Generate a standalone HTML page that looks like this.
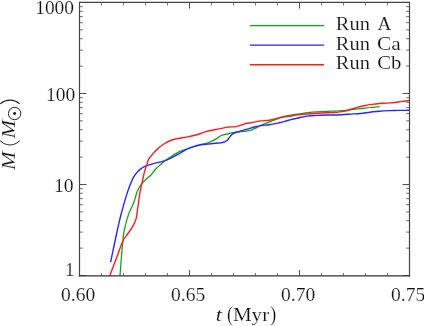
<!DOCTYPE html>
<html><head><meta charset="utf-8"><style>
html,body{margin:0;padding:0;background:#fff;}
svg{display:block;will-change:transform}
text{font-family:"Liberation Serif",serif;fill:#111;stroke:#fff;stroke-width:0.16px}
</style></head><body>
<svg width="424" height="326" viewBox="0 0 424 326">
<rect width="424" height="326" fill="#fff"/>
<g fill="none" stroke-linejoin="round" stroke-linecap="butt" stroke-width="1.45">
<path d="M120.0 276.0C120.1 273.9 120.6 267.8 120.9 263.5C121.2 259.2 121.7 253.9 122.0 250.2C122.3 246.4 122.7 243.5 122.9 241.0C123.1 238.5 123.0 237.9 123.4 235.3C123.8 232.7 124.4 229.0 125.4 225.2C126.4 221.4 127.8 216.3 129.2 212.6C130.6 208.9 132.3 206.5 133.6 203.0C134.9 199.5 135.9 194.7 137.2 191.5C138.5 188.3 140.1 185.8 141.6 183.8C143.1 181.8 144.4 180.8 146.0 179.3C147.6 177.8 149.5 176.6 151.0 175.0C152.5 173.4 153.4 171.6 154.8 170.0C156.2 168.4 157.8 167.0 159.5 165.5C161.2 164.0 162.9 162.5 164.7 161.1C166.5 159.7 168.2 158.4 170.4 157.0C172.6 155.6 175.5 153.7 178.0 152.4C180.5 151.1 183.1 150.3 185.6 149.4C188.1 148.5 190.8 147.8 193.2 147.0C195.6 146.2 197.9 145.4 200.0 144.8C202.1 144.2 203.6 144.2 205.5 143.6C207.4 143.0 209.3 142.3 211.3 141.4C213.3 140.5 215.7 139.1 217.3 138.1C218.9 137.1 219.6 136.2 221.1 135.5C222.6 134.8 224.6 134.7 226.5 134.2C228.4 133.7 230.5 133.1 232.4 132.7C234.3 132.3 236.1 132.1 238.0 131.9C239.9 131.7 241.8 131.6 243.7 131.4C245.6 131.2 247.5 131.2 249.4 130.7C251.3 130.2 253.2 129.3 255.1 128.4C257.0 127.5 259.0 126.1 260.8 125.3C262.6 124.5 263.9 124.1 265.7 123.4C267.5 122.7 269.5 121.9 271.4 121.2C273.3 120.4 275.2 119.8 277.1 119.0C279.0 118.2 280.6 117.2 282.8 116.6C285.0 116.0 287.9 115.6 290.4 115.2C292.9 114.8 295.1 114.5 298.0 114.1C300.9 113.7 304.3 113.1 307.5 112.7C310.7 112.3 313.8 112.0 317.0 111.8C320.2 111.6 323.3 111.5 326.5 111.4C329.7 111.3 333.8 111.0 336.0 111.0C338.2 110.9 337.7 111.0 339.6 110.9C341.5 110.8 344.7 110.5 347.2 110.2C349.7 110.0 352.3 109.5 354.8 109.2C357.3 108.9 359.9 108.7 362.4 108.4C364.9 108.1 367.8 107.7 370.0 107.5C372.2 107.2 374.1 107.1 375.7 107.0C377.3 106.9 379.1 106.7 379.8 106.6" stroke="#0aa60a" stroke-width="1.25"/>
<path d="M110.6 262.2C111.2 259.2 113.2 249.8 114.3 244.5C115.4 239.2 116.3 234.9 117.3 230.3C118.3 225.7 119.4 221.2 120.4 217.0C121.4 212.8 122.3 209.6 123.5 205.4C124.7 201.2 126.2 196.1 127.5 192.1C128.8 188.1 130.3 184.3 131.4 181.7C132.5 179.0 133.1 177.9 134.2 176.2C135.3 174.4 136.7 172.5 138.0 171.2C139.3 169.8 140.4 169.0 141.8 168.1C143.2 167.2 144.4 166.4 146.6 165.6C148.8 164.8 152.5 163.8 155.2 163.1C157.9 162.4 160.3 162.1 162.8 161.3C165.3 160.5 167.9 159.6 170.4 158.4C172.9 157.2 175.5 155.7 178.0 154.3C180.5 152.9 183.1 151.1 185.6 149.8C188.1 148.5 190.7 147.5 193.2 146.7C195.7 145.9 198.4 145.2 200.8 144.8C203.2 144.4 205.2 144.3 207.6 144.1C210.0 143.8 213.0 143.5 215.2 143.3C217.4 143.1 219.3 142.9 220.9 142.7C222.5 142.4 223.6 142.3 224.7 141.8C225.8 141.3 226.8 140.7 227.6 139.9C228.4 139.2 228.9 138.1 229.5 137.3C230.1 136.5 230.6 135.7 231.4 135.0C232.2 134.3 232.8 133.6 234.2 133.0C235.6 132.4 237.7 131.8 239.9 131.2C242.1 130.5 245.0 129.8 247.5 129.1C250.0 128.4 252.6 127.4 255.1 126.8C257.6 126.2 260.3 125.8 262.7 125.4C265.1 125.1 266.8 125.1 269.5 124.7C272.2 124.3 275.8 123.5 279.0 122.8C282.2 122.1 285.3 121.1 288.5 120.3C291.7 119.5 294.8 118.7 298.0 118.0C301.2 117.3 304.3 116.5 307.5 116.1C310.7 115.7 313.8 115.6 317.0 115.4C320.2 115.2 323.3 115.1 326.5 115.0C329.7 114.9 333.5 115.0 336.0 115.0C338.5 115.0 339.0 114.9 341.5 114.7C344.0 114.5 347.8 114.3 351.0 114.1C354.2 113.9 357.3 113.8 360.5 113.5C363.7 113.2 366.8 112.6 370.0 112.2C373.2 111.8 376.3 111.6 379.5 111.3C382.7 111.0 385.8 110.8 389.0 110.6C392.2 110.4 395.1 110.5 398.5 110.4C401.9 110.4 407.7 110.3 409.5 110.3" stroke="#2626ff" stroke-width="1.4"/>
<path d="M109.7 276.0C110.8 273.1 114.2 264.1 116.4 258.3C118.6 252.5 121.0 245.1 122.9 241.0C124.8 236.9 126.0 236.3 127.6 234.0C129.2 231.7 130.9 229.6 132.3 227.1C133.7 224.6 135.2 221.9 136.1 218.9C137.0 215.9 137.2 211.5 137.6 208.8C138.0 206.2 138.2 205.5 138.5 203.0C138.8 200.5 139.2 197.1 139.7 194.0C140.2 190.9 141.0 187.7 141.7 184.5C142.4 181.3 143.1 177.6 143.7 175.0C144.3 172.4 144.9 170.7 145.4 169.0C145.9 167.3 146.2 166.7 146.7 165.1C147.2 163.5 147.5 161.3 148.6 159.4C149.7 157.5 151.6 155.4 153.3 153.4C155.0 151.4 157.1 149.2 159.0 147.6C160.9 145.9 162.8 144.7 164.7 143.5C166.6 142.3 168.2 141.3 170.4 140.5C172.6 139.7 175.2 139.1 178.0 138.5C180.8 137.9 184.3 137.6 187.5 136.9C190.7 136.3 194.4 135.5 197.0 134.8C199.6 134.1 200.9 133.4 203.0 132.7C205.1 132.0 206.8 131.3 209.5 130.7C212.2 130.1 215.8 129.5 219.0 128.9C222.2 128.3 225.7 127.3 228.5 127.0C231.3 126.6 233.6 127.1 236.1 126.6C238.6 126.1 241.2 124.8 243.7 124.2C246.2 123.5 248.5 123.2 251.3 122.7C254.2 122.1 257.8 121.3 260.8 120.9C263.8 120.5 266.5 120.8 269.5 120.3C272.5 119.8 275.8 118.7 279.0 118.0C282.2 117.4 285.3 116.9 288.5 116.4C291.7 115.9 294.8 115.2 298.0 114.8C301.2 114.4 304.3 114.3 307.5 114.0C310.7 113.7 313.8 113.4 317.0 113.2C320.2 113.0 323.3 112.9 326.5 112.8C329.7 112.7 333.8 112.6 336.0 112.4C338.2 112.2 338.1 112.1 339.6 111.9C341.2 111.7 343.4 111.5 345.3 111.1C347.2 110.6 349.1 109.8 351.0 109.2C352.9 108.6 354.5 108.2 356.7 107.6C358.9 107.0 361.8 106.3 364.3 105.8C366.8 105.3 369.4 104.8 371.9 104.4C374.4 104.0 377.0 103.7 379.5 103.5C382.0 103.3 384.6 103.3 387.1 103.1C389.6 102.9 392.2 102.8 394.7 102.5C397.2 102.2 399.8 101.7 402.3 101.4C404.8 101.1 408.3 100.7 409.5 100.5" stroke="#ff1c1c" stroke-width="1.4"/>
<path d="M249.8 25.5H324" stroke="#0aa60a" stroke-width="1.25"/>
<path d="M249.8 45.1H324" stroke="#2626ff" stroke-width="1.4"/>
<path d="M249.8 64.7H324" stroke="#ff1c1c" stroke-width="1.4"/>
</g>
<path d="M79.5 248.11h3.3M409.5 248.11h-3.3M79.5 232.08h3.3M409.5 232.08h-3.3M79.5 220.71h3.3M409.5 220.71h-3.3M79.5 211.89h3.3M409.5 211.89h-3.3M79.5 204.69h3.3M409.5 204.69h-3.3M79.5 198.60h3.3M409.5 198.60h-3.3M79.5 193.32h3.3M409.5 193.32h-3.3M79.5 188.66h3.3M409.5 188.66h-3.3M79.5 157.11h3.3M409.5 157.11h-3.3M79.5 141.08h3.3M409.5 141.08h-3.3M79.5 129.71h3.3M409.5 129.71h-3.3M79.5 120.89h3.3M409.5 120.89h-3.3M79.5 113.69h3.3M409.5 113.69h-3.3M79.5 107.60h3.3M409.5 107.60h-3.3M79.5 102.32h3.3M409.5 102.32h-3.3M79.5 97.66h3.3M409.5 97.66h-3.3M79.5 66.11h3.3M409.5 66.11h-3.3M79.5 50.08h3.3M409.5 50.08h-3.3M79.5 38.71h3.3M409.5 38.71h-3.3M79.5 29.89h3.3M409.5 29.89h-3.3M79.5 22.69h3.3M409.5 22.69h-3.3M79.5 16.60h3.3M409.5 16.60h-3.3M79.5 11.32h3.3M409.5 11.32h-3.3M79.5 6.66h3.3M409.5 6.66h-3.3" fill="none" stroke="#5a5a5a" stroke-width="0.9"/>
<path d="M101.50 276.0v-3.1M101.50 2.4v3.1M123.50 276.0v-3.1M123.50 2.4v3.1M145.50 276.0v-3.1M145.50 2.4v3.1M167.50 276.0v-3.1M167.50 2.4v3.1M211.50 276.0v-3.1M211.50 2.4v3.1M233.50 276.0v-3.1M233.50 2.4v3.1M255.50 276.0v-3.1M255.50 2.4v3.1M277.50 276.0v-3.1M277.50 2.4v3.1M321.50 276.0v-3.1M321.50 2.4v3.1M343.50 276.0v-3.1M343.50 2.4v3.1M365.50 276.0v-3.1M365.50 2.4v3.1M387.50 276.0v-3.1M387.50 2.4v3.1" fill="none" stroke="#6a6a6a" stroke-width="0.9"/>
<path d="M79.50 276.0v-6.1M79.50 2.4v6.1M189.50 276.0v-6.1M189.50 2.4v6.1M299.50 276.0v-6.1M299.50 2.4v6.1M409.50 276.0v-6.1M409.50 2.4v6.1M79.5 275.50h6.9M409.5 275.50h-6.9M79.5 184.50h6.9M409.5 184.50h-6.9M79.5 93.50h6.9M409.5 93.50h-6.9M79.5 2.50h6.9M409.5 2.50h-6.9" fill="none" stroke="#505050" stroke-width="1"/>
<path d="M79.5 1.8V276.6M409.5 1.8V276.6M78.9 2.4H410.1" fill="none" stroke="#444" stroke-width="1.2"/>
<path d="M78.9 275.9H410.1" fill="none" stroke="#333" stroke-width="1.1"/>
<g font-size="19">
<text x="35.2" y="14.2" textLength="38.85" lengthAdjust="spacingAndGlyphs">1000</text>
<text x="46.0" y="100.5" textLength="29.26" lengthAdjust="spacingAndGlyphs">100</text>
<text x="53.9" y="191.7" textLength="19.68" lengthAdjust="spacingAndGlyphs">10</text>
<text x="65.0" y="275.6">1</text>
<text x="61.05" y="300.9" textLength="34.2" lengthAdjust="spacingAndGlyphs">0.60</text>
<text x="171.05" y="300.9" textLength="34.2" lengthAdjust="spacingAndGlyphs">0.65</text>
<text x="281.05" y="300.9" textLength="34.2" lengthAdjust="spacingAndGlyphs">0.70</text>
<text x="391.05" y="300.9" textLength="34.2" lengthAdjust="spacingAndGlyphs">0.75</text>
</g>
<g font-size="19.3">
<text x="335.8" y="30.3" textLength="34.1" lengthAdjust="spacingAndGlyphs">Run</text>
<text x="377.4" y="30.3" textLength="13.8" lengthAdjust="spacingAndGlyphs">A</text>
<text x="335.8" y="49.7" textLength="34.1" lengthAdjust="spacingAndGlyphs">Run</text>
<text x="377.1" y="49.7" textLength="23.76" lengthAdjust="spacingAndGlyphs">Ca</text>
<text x="335.8" y="69.2" textLength="34.1" lengthAdjust="spacingAndGlyphs">Run</text>
<text x="377.15" y="69.2" textLength="24.2" lengthAdjust="spacingAndGlyphs">Cb</text>
</g>
<g font-size="18.5">
<text x="215.7" y="320.8" font-size="19.5" font-style="italic" textLength="6.2" lengthAdjust="spacingAndGlyphs">t</text>
<text x="226.9" y="321.1" font-size="20" textLength="6" lengthAdjust="spacingAndGlyphs">(</text>
<text x="232.9" y="320.8" textLength="36.3" lengthAdjust="spacingAndGlyphs">Myr</text>
<text x="270.2" y="321.1" font-size="20" textLength="6" lengthAdjust="spacingAndGlyphs">)</text>
</g>
<g transform="translate(14.7 167.6) rotate(-90)" font-size="18.5">
<text x="-2.4" y="0" font-style="italic" textLength="18.6" lengthAdjust="spacingAndGlyphs">M</text>
<text x="29" y="0" font-style="italic" textLength="18.6" lengthAdjust="spacingAndGlyphs">M</text>
<circle cx="54.1" cy="-0.1" r="6.2" fill="none" stroke="#1a1a1a" stroke-width="0.95"/>
<circle cx="54.1" cy="-0.1" r="1.45" fill="#1a1a1a"/>
</g>
<g fill="none" stroke="#1a1a1a" stroke-width="1.05" stroke-linecap="round">
<path d="M0.6 103.6A14.3 14.3 0 0 1 19.3 103.6"/>
<path d="M0.6 141.0A13 13 0 0 0 19.3 141.0"/>
</g>
</svg>
</body></html>
